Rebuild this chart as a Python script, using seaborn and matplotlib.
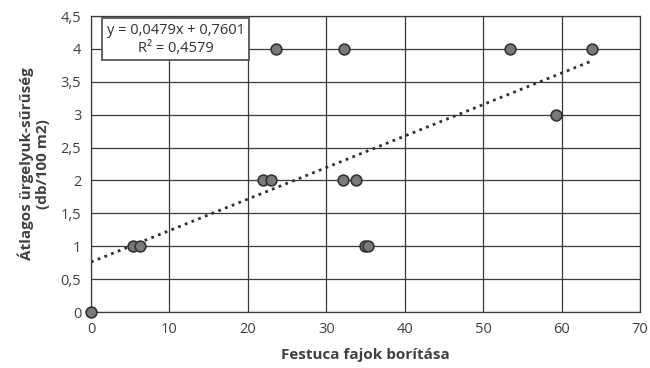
import numpy as np
import pandas as pd
import matplotlib
matplotlib.use("Agg")
import matplotlib.pyplot as plt
import seaborn as sns
from matplotlib.ticker import FuncFormatter

# Data
festuca_cover = [0, 5.3, 6.2, 34.9, 35.3, 21.9, 23.0, 32.1, 33.8, 23.6, 32.2, 53.4, 63.8, 59.2]
burrow_density = [0, 1, 1, 1, 1, 2, 2, 2, 2, 4, 4, 4, 4, 3]
trend_slope = 0.0479
trend_intercept = 0.7601
r_squared = 0.4579
x_ticks = [0, 10, 20, 30, 40, 50, 60, 70]
y_ticks = [0, 0.5, 1, 1.5, 2, 2.5, 3, 3.5, 4, 4.5]

df = pd.DataFrame({"x": festuca_cover, "y": burrow_density})

sns.set_theme(style="white")
plt.rcParams["font.family"] = ["Open Sans", "DejaVu Sans"]

fig = plt.figure(figsize=(6.5, 3.68), dpi=100)
ax = fig.add_axes([0.14, 0.152, 0.845, 0.8045])

ax.set_xlim(0, 70)
ax.set_ylim(0, 4.5)
ax.set_xticks(x_ticks)
ax.set_yticks(y_ticks)
ax.grid(True, color="#3a3a3a", linewidth=0.9)
ax.set_axisbelow(True)
for s in ax.spines.values():
    s.set_color("#3a3a3a")
    s.set_linewidth(0.9)

fmt = FuncFormatter(lambda v, p: (f"{v:g}").replace(".", ","))
ax.xaxis.set_major_formatter(fmt)
ax.yaxis.set_major_formatter(fmt)
ax.tick_params(axis="both", labelsize=10.5, colors="#404040", length=0, pad=7)
for lab in ax.get_xticklabels() + ax.get_yticklabels():
    lab.set_color("#404040")

# Trend line
xt = np.array([0, max(festuca_cover)])
ax.plot(xt, trend_slope * xt + trend_intercept, linestyle=(0, (1, 1.6)),
        color="#303030", linewidth=2.0, zorder=2)

sns.scatterplot(data=df, x="x", y="y", ax=ax, s=60, color="#7a7a7a",
                edgecolor="#333333", linewidth=1.2, zorder=3, clip_on=False)

ax.set_xlabel("Festuca fajok borítása", fontsize=11, fontweight="bold",
              color="#404040", labelpad=8)
ax.set_ylabel("Átlagos ürgelyuk-sűrűség\n(db/100 m2)", fontsize=11,
              fontweight="bold", color="#404040", labelpad=8, linespacing=1.1)

label = f"y = {trend_slope:.4f}x + {trend_intercept:.4f}\nR² = {r_squared:.4f}".replace(".", ",")
ax.text(0.154, 0.978, label,
        transform=ax.transAxes, ha="center", va="top", fontsize=10.5,
        color="#303030", linespacing=1.3, zorder=5,
        bbox=dict(boxstyle="square,pad=0.3", facecolor="white",
                  edgecolor="#555555", linewidth=1.3))

fig.savefig("out.png", dpi=100)
